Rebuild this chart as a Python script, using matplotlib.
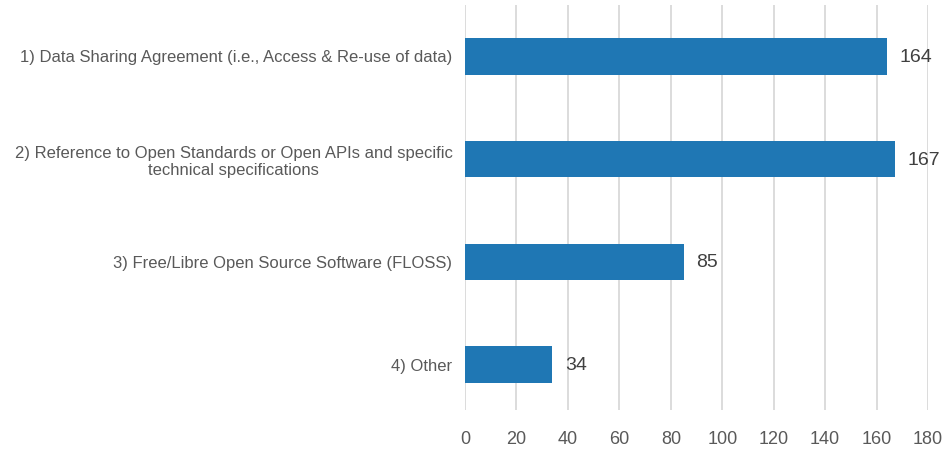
import matplotlib
matplotlib.use('Agg')
from matplotlib import pyplot as plt

plt.rcParams['font.family'] = ['Liberation Sans', 'DejaVu Sans']

categories = ['1) Data Sharing Agreement (i.e., Access & Re-use of data)',
              '2) Reference to Open Standards or Open APIs and specific\ntechnical specifications',
              '3) Free/Libre Open Source Software (FLOSS)',
              '4) Other']
counts = [164, 167, 85, 34]
x_ticks = [0, 20, 40, 60, 80, 100, 120, 140, 160, 180]

fig = plt.figure(figsize=(9.48, 4.54), dpi=100)
ax = fig.add_axes([0.4905, 0.097, 0.979 - 0.4905, 0.892])

ypos = list(range(len(categories)))
ax.barh(ypos, counts, height=0.355, color='#1f77b4', zorder=3)

for y, v in zip(ypos, counts):
    ax.text(v + 5, y + 0.01, str(v), va='center', ha='left', fontsize=14, color='#404040')

ax.set_xlim(0, 180)
ax.set_ylim(3.44, -0.5)
ax.set_xticks(x_ticks)
ax.set_yticks(ypos)
ax.set_yticklabels(categories, fontsize=12, color='#595959', ha='right',
                   multialignment='center')
ax.tick_params(axis='y', length=0, pad=9)
ax.tick_params(axis='x', length=0, labelsize=13, labelcolor='#595959', pad=15)
ax.xaxis.grid(True, color='#d9d9d9', linewidth=1.3, zorder=0)
for s in ax.spines.values():
    s.set_visible(False)

fig.savefig('out.png', dpi=100)
